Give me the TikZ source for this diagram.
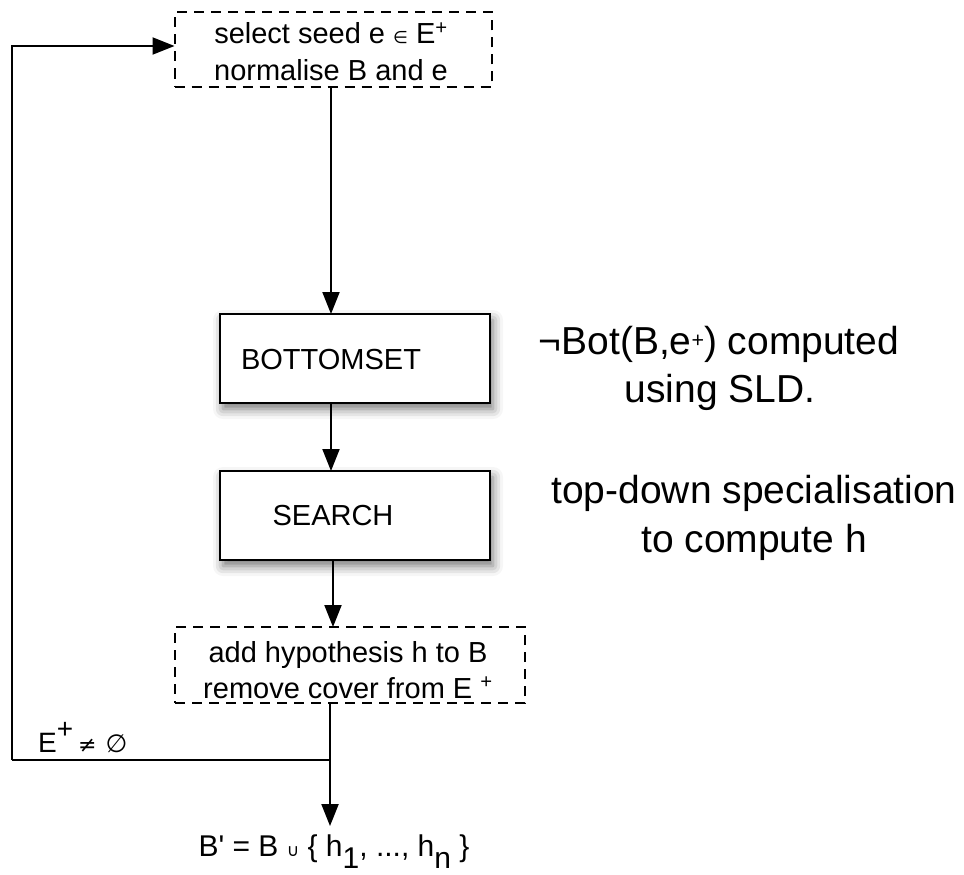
\documentclass[tikz,border=0pt]{standalone}
\usepackage{fontspec}
\setmainfont{Liberation Sans}
\newfontfamily\symfont{DejaVu Sans}
% same face without TeX quote ligatures, for a straight prime
\newfontfamily\rawsans{Liberation Sans}
\usetikzlibrary{arrows.meta,shadows.blur}

\tikzset{
  flow/.style={line width=2pt, -{Triangle[length=22pt,width=17pt]}},
  plainline/.style={line width=2pt},
  dashbox/.style={draw, line width=2pt, dash pattern=on 10pt off 7pt,
    inner sep=0pt, outer sep=0pt},
  solidbox/.style={draw, fill=white, line width=2.4pt, inner sep=0pt, outer sep=0pt,
    minimum width=270pt, minimum height=89pt,
    blur shadow={shadow xshift=3pt, shadow yshift=-6pt,
      shadow blur radius=10pt, shadow opacity=55}},
  boxtext/.style={inner sep=0pt, font=\fontsize{29}{36}\selectfont},
  notetext/.style={inner sep=0pt, font=\fontsize{39}{48}\selectfont},
}
% small symbols taken from DejaVu Sans
\newcommand{\smallsym}[2]{{\symfont\fontsize{#1}{#1}\selectfont #2}}

\begin{document}
\begin{tikzpicture}[x=1pt,y=-1pt]
\useasboundingbox (0,0) rectangle (964,875);

% seed selection step
\node[dashbox, minimum width=317pt, minimum height=75pt] (seed) at (333,50) {};
\node[boxtext, anchor=base] (seedA) at (331,44)
  {select seed e \smallsym{17}{∈} E\textsuperscript{+}};
\node[boxtext, anchor=base] (seedB) at (331,81) {normalise B and e};

% bottom set construction
\node[solidbox] (bot) at (355,358.5) {};
\node[boxtext] (botlbl) at (331,360) {BOTTOMSET};

% search step
\node[solidbox] (srch) at (355,515.5) {};
\node[boxtext] (srchlbl) at (333,516) {SEARCH};

% update step
\node[dashbox, minimum width=350pt, minimum height=76pt] (upd) at (350,665) {};
\node[boxtext, anchor=base] (updA) at (348,662) {add hypothesis h to B};
\node[boxtext, anchor=base] (updB) at (348,698) {remove cover from E \textsuperscript{+}};

% result
\node[inner sep=0pt, anchor=base, font=\fontsize{30}{30}\selectfont] (res) at (334,856)
  {B{\rawsans '} = B \smallsym{17}{∪} \{ h\raisebox{-12pt}{1}, ..., h\raisebox{-12pt}{n} \}};

% side notes
\node[notetext, anchor=base] (noteA) at (719,354)
  {¬Bot(B,e\raisebox{7pt}{\scalebox{0.55}{+}}) computed};
\node[notetext, anchor=base] (noteB) at (720,402) {using SLD.};
\node[notetext, anchor=base] (noteC) at (754,503) {top-down specialisation};
\node[notetext, anchor=base] (noteD) at (754,552) {to compute h};

% loop condition
\node[inner sep=0pt, anchor=base west, font=\fontsize{28}{28}\selectfont] (cond) at (38,752)
  {E\raisebox{14pt}{+}\hspace{5pt}\smallsym{22}{≠}\hspace{9pt}\smallsym{25}{∅}};

% main flow
\coordinate (fork) at (330,760);
\coordinate (loopleft) at (12,760);
\draw[flow] (seed.south -| botlbl) -- (bot.north -| botlbl);
\draw[flow] (bot.south -| botlbl) -- (srch.north -| botlbl);
\draw[flow] (srch.south -| srchlbl) -- (upd.north -| srchlbl);
\draw[flow] (upd.south -| fork) -- ([yshift=8pt]res.north -| fork);
% loop back to the seed selection
\draw[plainline] (fork) -- (loopleft);
\draw[flow] (loopleft) |- ([yshift=4pt]seed.west);
\end{tikzpicture}
\end{document}
